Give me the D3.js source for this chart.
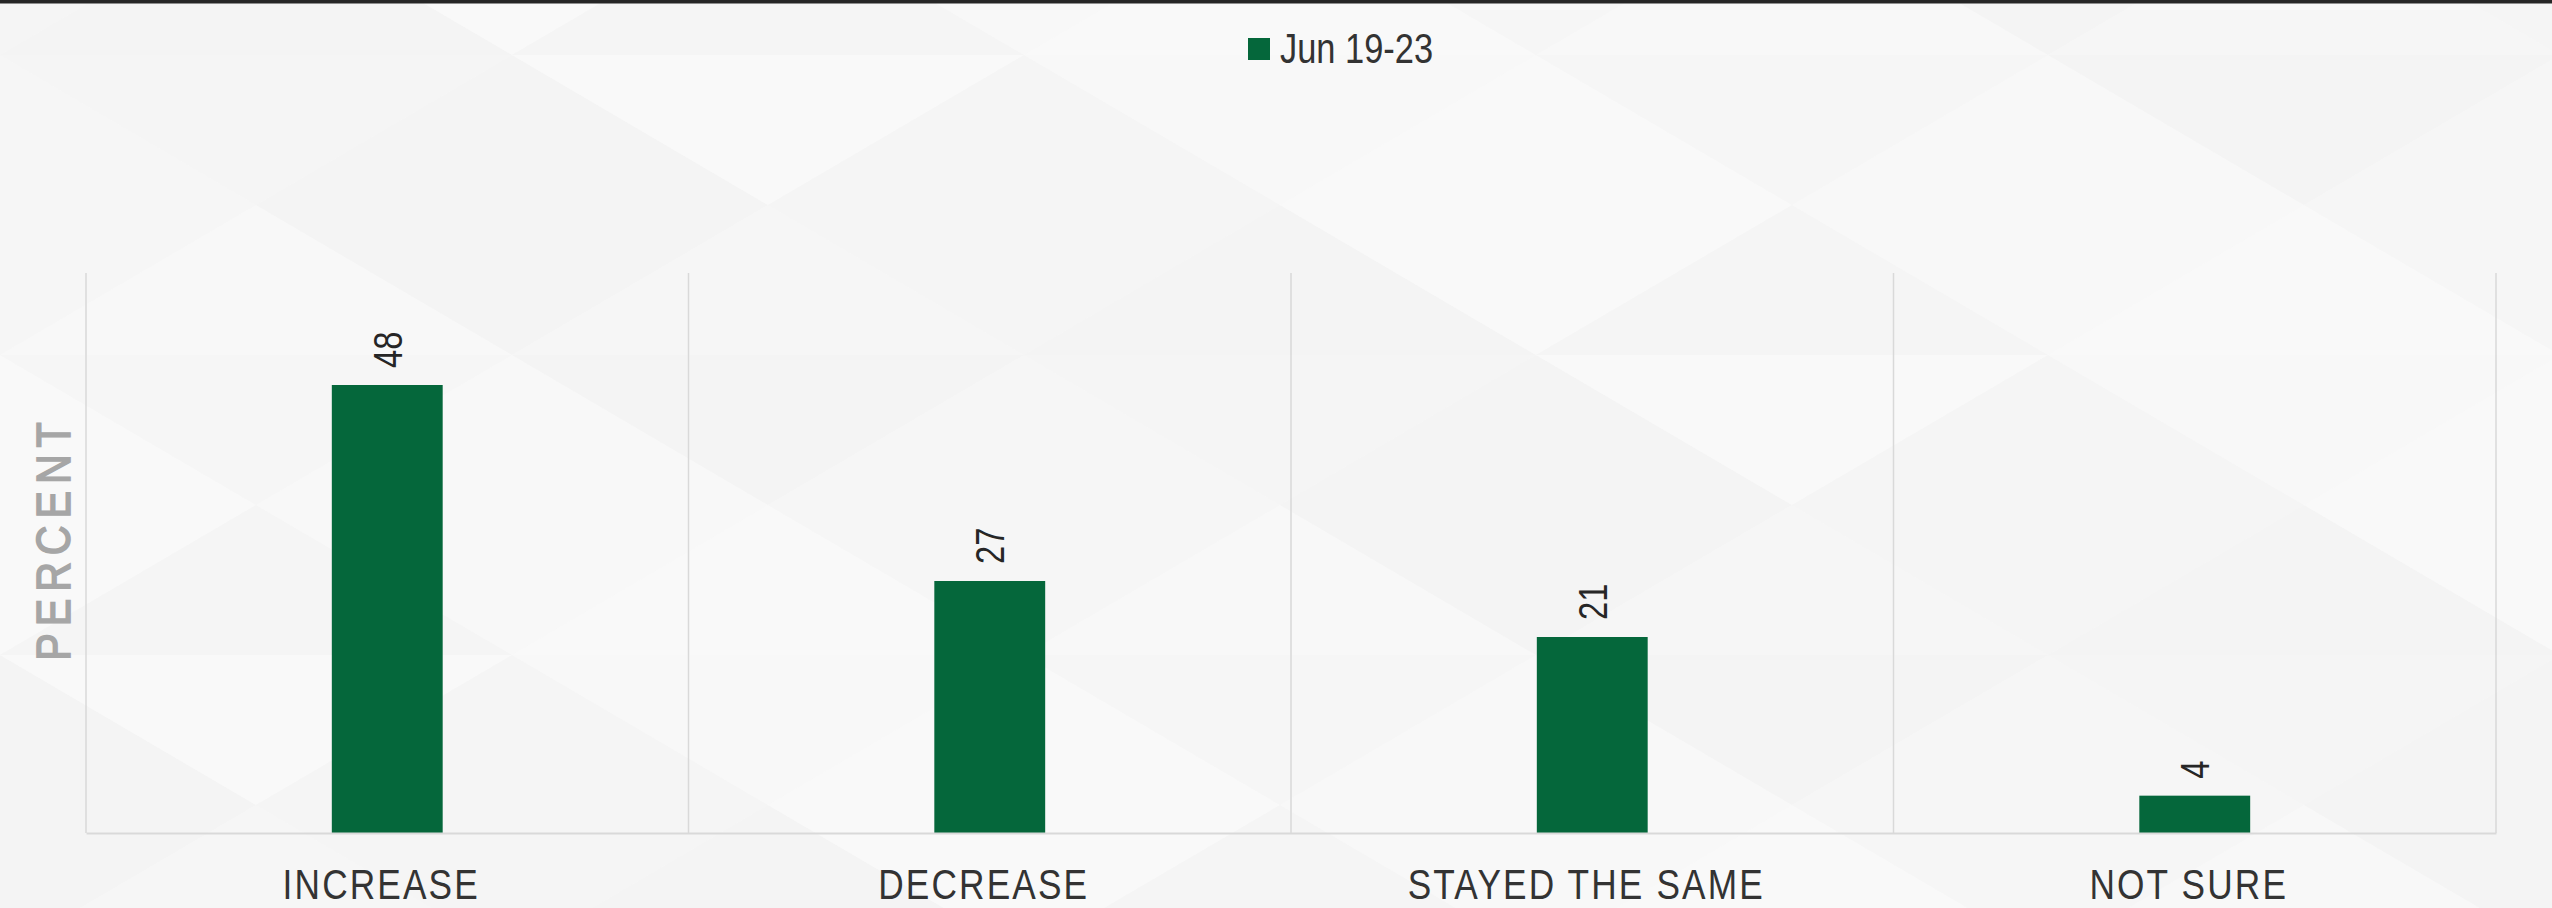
<!DOCTYPE html>
<html>
<head>
<meta charset="utf-8">
<script src="https://cdn.jsdelivr.net/npm/d3@7/dist/d3.min.js"></script>
<style>
  html, body { margin: 0; padding: 0; background: #f7f7f7; overflow: hidden; }
  svg { display: block; }
  text { font-family: "Liberation Sans", Arial, sans-serif; }
</style>
</head>
<body>
<svg id="chart" width="2552" height="908"></svg>
<script>
const categories = ["INCREASE", "DECREASE", "STAYED THE SAME", "NOT SURE"];
const values = [48, 27, 21, 4];
const seriesName = "Jun 19-23";
const yMax = 60;

const W = 2552, H = 908;
const margin = { left: 86, right: 56, top: 273, bottom: 75 };
const green = "#05673b";
const narrow = 0.82;

const svg = d3.select("#chart");

// background
svg.append("rect").attr("width", W).attr("height", H).attr("fill", "#f7f7f7");

// very faint faceted background pattern (decorative)
const bg = svg.append("g");
const colW = 512, rowH = 150;
const shades = ["#f5f5f5", "#f8f8f8", "#f4f4f4", "#f9f9f9", "#f6f6f6"];
for (let r = -1; r < 7; r++) {
  for (let c = -1; c < 7; c++) {
    const x0 = c * colW + (r % 2 ? colW / 2 : 0);
    const y0 = r * rowH + 55;
    const k = ((r * 7 + c * 3) % 5 + 5) % 5;
    bg.append("path")
      .attr("d", `M${x0},${y0}L${x0 + colW},${y0}L${x0 + colW / 2},${y0 + rowH}Z`)
      .attr("fill", shades[k]);
    bg.append("path")
      .attr("d", `M${x0 + colW / 2},${y0 + rowH}L${x0 + colW},${y0}L${x0 + colW * 1.5},${y0 + rowH}Z`)
      .attr("fill", shades[(k + 2) % 5]);
  }
}

// top dark border
svg.append("rect").attr("x", 0).attr("y", 0).attr("width", W).attr("height", 3.5).attr("fill", "#262626");

const x = d3.scaleBand().domain(categories).range([margin.left, W - margin.right]).paddingInner(0).paddingOuter(0);
const y = d3.scaleLinear().domain([0, yMax]).range([H - margin.bottom, margin.top]);

// vertical gridlines at category boundaries
const bounds = categories.map(c => x(c)).concat([x(categories[categories.length - 1]) + x.bandwidth()]);
svg.append("g").selectAll("line").data(bounds).join("line")
  .attr("x1", d => d).attr("x2", d => d)
  .attr("y1", y(yMax)).attr("y2", y(0))
  .attr("stroke", "#d9d9d9").attr("stroke-width", 1.5);

// bars
const barW = x.bandwidth() * 0.184;
svg.append("g").selectAll("rect").data(values).join("rect")
  .attr("x", (d, i) => x(categories[i]) + x.bandwidth() / 2 - barW / 2)
  .attr("y", d => y(d))
  .attr("width", barW)
  .attr("height", d => y(0) - y(d))
  .attr("fill", green);

// baseline axis
const xAxis = d3.axisBottom(x).tickSize(0).tickPadding(0);
const gx = svg.append("g").attr("transform", `translate(0,${y(0)})`).call(xAxis);
gx.select(".domain").attr("stroke", "#d9d9d9").attr("stroke-width", 2);
gx.selectAll(".tick text")
  .attr("y", 0)
  .attr("dy", 0)
  .attr("transform", `translate(-6,66) scale(${narrow},1)`)
  .attr("font-size", 43)
  .attr("letter-spacing", 2.6)
  .attr("fill", "#333333")
  .attr("font-family", '"Liberation Sans", Arial, sans-serif');

// value labels (rotated)
svg.append("g").selectAll("text").data(values).join("text")
  .attr("transform", (d, i) => `translate(${x(categories[i]) + x.bandwidth() / 2 + 14.5},${y(d) - 17}) rotate(-90) scale(${narrow},1)`)
  .attr("text-anchor", "start")
  .attr("font-size", 40)
  .attr("fill", "#262626")
  .text(d => d);

// y-axis title
svg.append("text")
  .attr("transform", `translate(70,538) rotate(-90) scale(0.86,1)`)
  .attr("text-anchor", "middle")
  .attr("font-size", 48)
  .attr("letter-spacing", 8)
  .attr("fill", "#a6a6a6")
  .attr("stroke", "#a6a6a6")
  .attr("stroke-width", 1.6)
  .text("PERCENT");

// legend
const lg = svg.append("g");
lg.append("rect").attr("x", 1248).attr("y", 38).attr("width", 22).attr("height", 22).attr("fill", green);
lg.append("text").attr("transform", `translate(1280,63) scale(${narrow},1)`)
  .attr("font-size", 42).attr("fill", "#333333").text(seriesName);
</script>
</body>
</html>
